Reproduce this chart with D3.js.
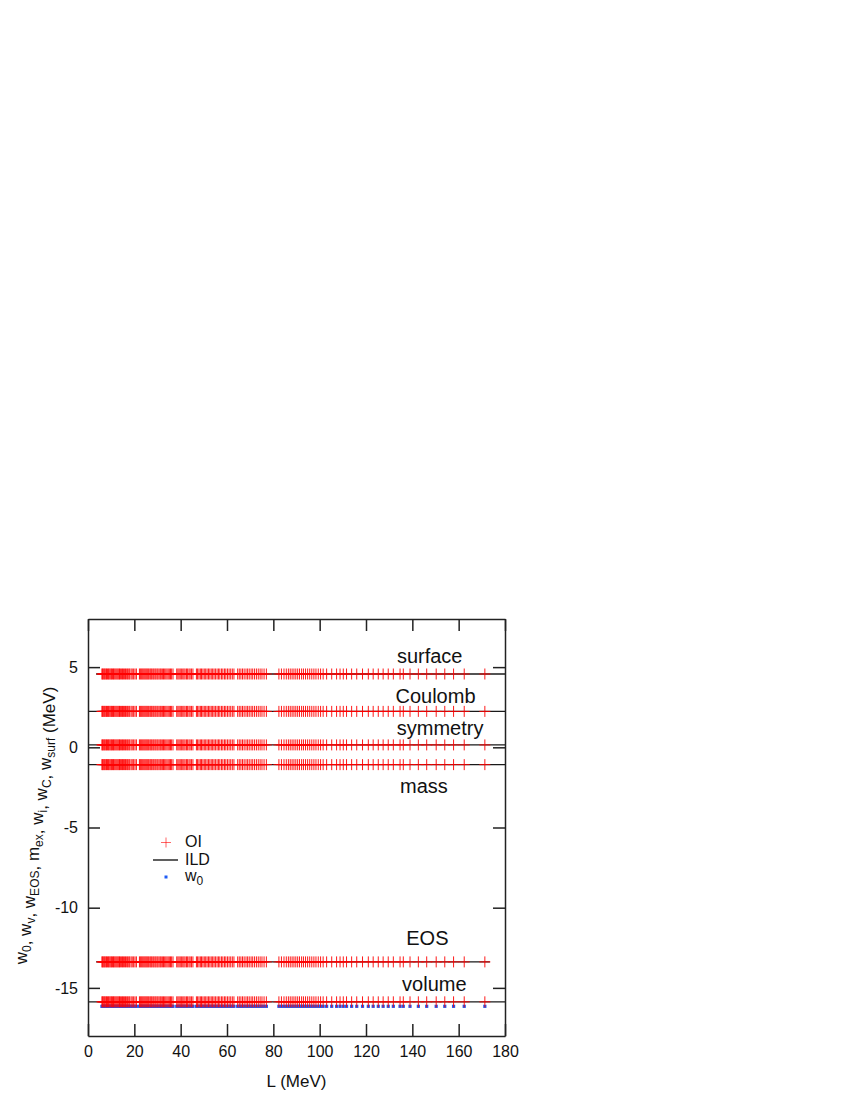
<!DOCTYPE html>
<html lang="en">
<head>
<meta charset="UTF-8">
<title>w components vs L</title>
<script src="https://d3js.org/d3.v7.min.js"></script>
<style>
    * { margin: 0; padding: 0; box-sizing: border-box; }
    body { background: #fff; font-family: "Liberation Sans", Arial, sans-serif; }
    svg text { fill: #111; }
</style>
</head>
<body>
<div id="chart"></div>
<script>
// L values (MeV) of the OI calculations
const L = [
    6.0, 6.3, 6.6, 7.0, 7.3, 7.7, 8.0, 8.4, 8.8, 9.1, 9.5, 9.9, 10.2, 10.6, 11.0, 11.3,
    11.7, 12.1, 12.5, 12.9, 13.3, 13.6, 14.0, 14.5, 14.9, 15.3, 15.8, 16.2, 16.7, 17.1,
    17.6, 18.0, 18.6, 19.1, 19.7, 20.3, 20.9,
    22.2, 22.6, 23.0, 23.4, 23.8, 24.2, 24.6, 25.0, 25.4, 25.8, 26.2, 26.7, 27.1, 27.5,
    28.0, 28.4, 28.9, 29.3, 29.8, 30.2, 30.7, 31.2, 31.6, 32.1, 32.6, 33.1, 33.6, 34.1,
    34.6, 35.1, 35.6, 36.1, 36.7,
    38.3, 38.8, 39.3, 39.8, 40.3, 40.9, 41.4, 41.9, 42.5, 43.0, 43.6, 44.1, 44.7, 45.3,
    46.8, 47.3, 47.9, 48.5, 49.0, 49.6, 50.2, 50.8, 51.4, 52.0, 52.6, 53.2, 53.8, 54.4,
    55.0, 55.7, 56.3, 56.9, 57.6, 58.2, 58.9, 59.5, 60.2, 60.9, 61.6, 62.3, 63.0,
    64.6, 65.3, 66.0, 66.7, 67.4, 68.2, 68.9, 69.6, 70.4, 71.1, 71.9, 72.7, 73.5, 74.3,
    75.1, 76.0, 77.0,
    82.4, 83.5, 84.6, 85.6, 86.5, 87.3, 88.1, 88.9, 89.7, 90.5, 91.3, 92.2, 93.0, 93.9,
    94.8, 95.7, 96.6, 97.5, 98.4, 99.4, 100.4, 101.5,
    103.0, 105.2, 107.3, 108.8, 110.2, 111.6, 113.8, 116.0, 118.5, 121.0,
    123.1, 125.3, 127.4, 129.6, 131.8, 134.7, 136.1, 139.0, 142.6, 146.2, 150.3, 154.0,
    157.8, 162.4, 171.3
];

// energy components (MeV), one flat row each
const components = ["surface", "Coulomb", "symmetry", "mass", "EOS", "volume"];
const oiValues   = [4.57, 2.24, 0.15, -1.08, -13.38, -15.87];
const ildValues  = [4.57, 2.24, 0.15, -1.08, -13.38, -15.87];
const ildStart   = [3.5, 0, 0, 0, 3.5, 0];
const ildEnd     = [180, 180, 180, 180, 173.5, 180];
const w0Value    = -16.15;

const xTicks = [0, 20, 40, 60, 80, 100, 120, 140, 160, 180];
const yTicks = [5, 0, -5, -10, -15];

// label placement (offset from row, px) and centre (L)
const labelDy = [-11, -8, -10, 28, -17, -11];
const labelX  = [147.5, 150, 152, 145, 146.5, 149.5];

const W = 850, H = 1100;
const mLeft = 88, mRight = 505, mTop = 619, mBottom = 1036;

const svg = d3.select("#chart").append("svg")
    .attr("width", W)
    .attr("height", H);

const x = d3.scaleLinear().domain([0, 180]).range([mLeft, mRight]);
const y = d3.scaleLinear().domain([-18, 8]).range([mBottom, mTop]);

svg.append("clipPath").attr("id", "plot-clip")
    .append("rect")
    .attr("x", mLeft).attr("y", mTop)
    .attr("width", mRight - mLeft).attr("height", mBottom - mTop);

const plot = svg.append("g").attr("clip-path", "url(#plot-clip)");

// ILD lines
plot.selectAll(".ild")
    .data(components)
    .join("line")
    .attr("class", "ild")
    .attr("x1", (d, i) => x(ildStart[i]))
    .attr("x2", (d, i) => x(ildEnd[i]))
    .attr("y1", (d, i) => y(ildValues[i]))
    .attr("y2", (d, i) => y(ildValues[i]))
    .attr("stroke", "#1a1a1a")
    .attr("stroke-width", 1.4);

// w0 dots
plot.selectAll(".w0")
    .data(L)
    .join("rect")
    .attr("class", "w0")
    .attr("x", d => x(d) - 1.6)
    .attr("y", y(w0Value) - 1.6)
    .attr("width", 3.2)
    .attr("height", 3.2)
    .attr("fill", "#1f5cf5");

// OI crosses
const cs = 5.5;
components.forEach((c, i) => {
    const row = plot.append("g").attr("class", "oi-" + c);
    row.selectAll("path")
        .data(L)
        .join("path")
        .attr("d", d => {
            const px = x(d), py = y(oiValues[i]);
            return `M${px - cs},${py}H${px + cs}M${px},${py - cs}V${py + cs}`;
        })
        .attr("stroke", "#ff0000")
        .attr("stroke-opacity", 0.9)
        .attr("stroke-width", 1)
        .attr("fill", "none");
});

// row labels
svg.selectAll(".row-label")
    .data(components)
    .join("text")
    .attr("class", "row-label")
    .attr("x", (d, i) => x(labelX[i]))
    .attr("y", (d, i) => y(oiValues[i]) + labelDy[i])
    .attr("text-anchor", "middle")
    .style("font-size", "20px")
    .text(d => d);

// axes, ticks pointing inward
const fmt = d => String(d);
const xb = svg.append("g").attr("transform", `translate(0,${mBottom})`)
    .call(d3.axisBottom(x).tickValues(xTicks).tickSize(-12).tickSizeOuter(0).tickPadding(10).tickFormat(fmt));
const xt = svg.append("g").attr("transform", `translate(0,${mTop})`)
    .call(d3.axisTop(x).tickValues(xTicks).tickSize(-12).tickSizeOuter(0).tickFormat(""));
const yl = svg.append("g").attr("transform", `translate(${mLeft},0)`)
    .call(d3.axisLeft(y).tickValues(yTicks).tickSize(-12).tickSizeOuter(0).tickPadding(10).tickFormat(fmt));
const yr = svg.append("g").attr("transform", `translate(${mRight},0)`)
    .call(d3.axisRight(y).tickValues(yTicks).tickSize(-12).tickSizeOuter(0).tickFormat(""));

[xb, xt, yl, yr].forEach(g => {
    g.selectAll("path.domain").attr("stroke", "#222").attr("stroke-width", 1.5);
    g.selectAll(".tick line").attr("stroke", "#222").attr("stroke-width", 1.5);
    g.selectAll(".tick text")
        .style("font-family", "'Liberation Sans', Arial, sans-serif")
        .style("font-size", "16px")
        .attr("fill", "#111");
});

// axis titles
svg.append("text")
    .attr("x", (mLeft + mRight) / 2)
    .attr("y", 1087)
    .attr("text-anchor", "middle")
    .style("font-size", "17px")
    .text("L (MeV)");

const yTitle = svg.append("text")
    .attr("transform", `translate(27,${(mTop + mBottom) / 2 - 2}) rotate(-90)`)
    .attr("text-anchor", "middle")
    .style("font-size", "17px");

const titleParts = [
    ["w", "0"], [", w", "v"], [", w", "EOS"], [", m", "ex"],
    [", w", "i"], [", w", "C"], [", w", "surf"]
];
titleParts.forEach(p => {
    yTitle.append("tspan").text(p[0]);
    yTitle.append("tspan").attr("dy", 4).style("font-size", "12px").text(p[1]);
    yTitle.append("tspan").attr("dy", -4).text("");
});
yTitle.append("tspan").text(" (MeV)");

// legend
const lg = svg.append("g");
lg.append("path")
    .attr("d", "M161,842.5H171M166,837.5V847.5")
    .attr("stroke", "#ff0000")
    .attr("stroke-opacity", 0.6)
    .attr("stroke-width", 1);
lg.append("text").attr("x", 185).attr("y", 847).style("font-size", "16px").text("OI");

lg.append("line")
    .attr("x1", 153).attr("x2", 178)
    .attr("y1", 860).attr("y2", 860)
    .attr("stroke", "#1a1a1a").attr("stroke-width", 1.4);
lg.append("text").attr("x", 185).attr("y", 865).style("font-size", "16px").text("ILD");

lg.append("rect")
    .attr("x", 164.5).attr("y", 875.5)
    .attr("width", 3).attr("height", 3)
    .attr("fill", "#1f5cf5");
const w0t = lg.append("text").attr("x", 185).attr("y", 881).style("font-size", "16px");
w0t.append("tspan").text("w");
w0t.append("tspan").attr("dy", 4).style("font-size", "12px").text("0");
</script>
</body>
</html>
